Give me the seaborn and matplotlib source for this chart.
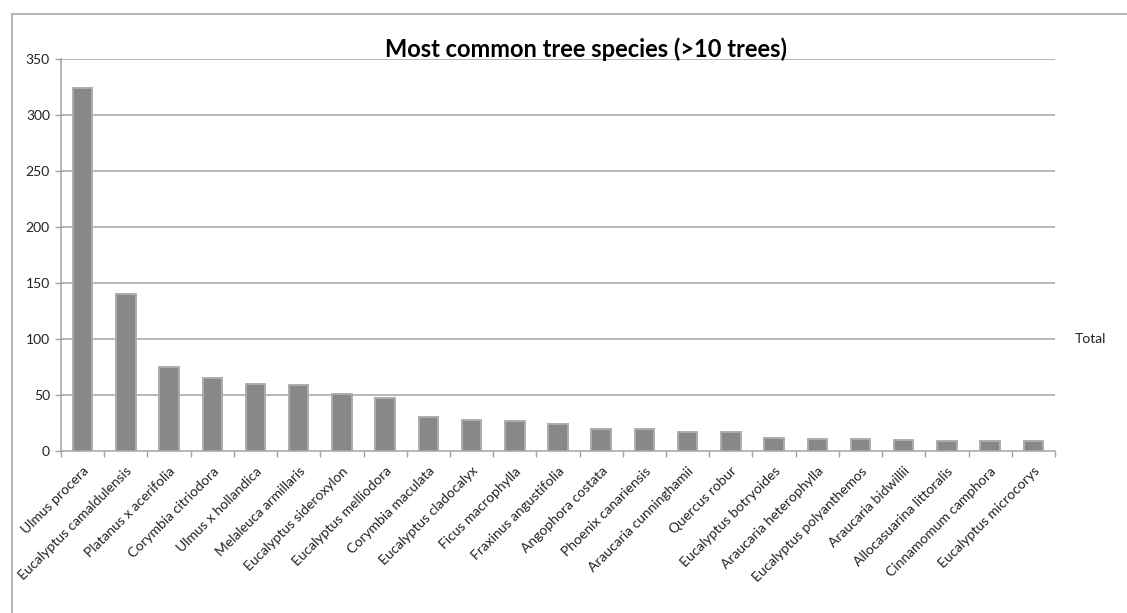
import matplotlib
matplotlib.use("Agg")
import matplotlib.pyplot as plt
import seaborn as sns
import pandas as pd
from matplotlib.lines import Line2D
from matplotlib.ticker import FixedLocator

species = [
    "Ulmus procera", "Eucalyptus camaldulensis", "Platanus x acerifolia",
    "Corymbia citriodora", "Ulmus x hollandica", "Melaleuca armillaris",
    "Eucalyptus sideroxylon", "Eucalyptus melliodora", "Corymbia maculata",
    "Eucalyptus cladocalyx", "Ficus macrophylla", "Fraxinus angustifolia",
    "Angophora costata", "Phoenix canariensis", "Araucaria cunninghamii",
    "Quercus robur", "Eucalyptus botryoides", "Araucaria heterophylla",
    "Eucalyptus polyanthemos", "Araucaria bidwillii", "Allocasuarina littoralis",
    "Cinnamomum camphora", "Eucalyptus microcorys",
]
totals = [324, 140, 75, 65, 60, 59, 51, 47, 30, 28, 27, 24, 20, 20, 17, 17,
          12, 11, 11, 10, 9, 9, 9]
y_ticks = [0, 50, 100, 150, 200, 250, 300, 350]
title = "Most common tree species (>10 trees)"
series_name = "Total"

sns.set_theme(style="white")
plt.rcParams["font.family"] = ["Lato", "DejaVu Sans"]

df = pd.DataFrame({"species": species, "total": totals})

fig = plt.figure(figsize=(11.27, 6.13), dpi=100)
ax = fig.add_axes([61 / 1127, 162 / 613, 994 / 1127, 392 / 613])

grid_c = "#a3a3a3"
for v in y_ticks[1:]:
    ax.axhline(v, color=grid_c, lw=1.1, zorder=0)

sns.barplot(data=df, x="species", y="total", order=species, color="#888888",
            saturation=1, width=0.45, edgecolor="#acacac", linewidth=1.4,
            ax=ax, zorder=2)

ax.set_xlim(-0.5, len(species) - 0.5)
ax.set_ylim(0, 350)
ax.set_yticks(y_ticks)
ax.set_yticklabels([str(v) for v in y_ticks], fontsize=10, color="#222222")
ax.set_xlabel("")
ax.set_ylabel("")

ax.set_xticks(range(len(species)))
ax.set_xticklabels(species, rotation=45, ha="right", rotation_mode="anchor",
                   fontsize=10, color="#222222")
ax.xaxis.set_minor_locator(FixedLocator([i - 0.5 for i in range(len(species) + 1)]))
ax.tick_params(axis="x", which="major", length=0, pad=10)
ax.tick_params(axis="x", which="minor", length=4, width=1, color=grid_c,
               direction="out", bottom=True)
ax.tick_params(axis="y", length=4, width=1, color=grid_c, direction="out",
               left=True, pad=4)

for s in ["top", "right"]:
    ax.spines[s].set_visible(False)
for s in ["left", "bottom"]:
    ax.spines[s].set_color(grid_c)
    ax.spines[s].set_linewidth(1.1)

fig.text(586 / 1127, 1 - 49 / 613, title, ha="center", va="center",
         fontsize=17, fontweight="bold", color="#000000")
fig.text(1090 / 1127, 1 - 339 / 613, series_name, ha="center", va="center",
         fontsize=10, color="#222222")

# outer chart frame (top and left edges)
fig.add_artist(Line2D([12 / 1127, 1.0], [1 - 14 / 613, 1 - 14 / 613],
                      color="#a8a8a8", lw=1.2, transform=fig.transFigure))
fig.add_artist(Line2D([12 / 1127, 12 / 1127], [0.0, 1 - 14 / 613],
                      color="#a8a8a8", lw=1.2, transform=fig.transFigure))

fig.savefig("out.png", dpi=100, facecolor="white")
